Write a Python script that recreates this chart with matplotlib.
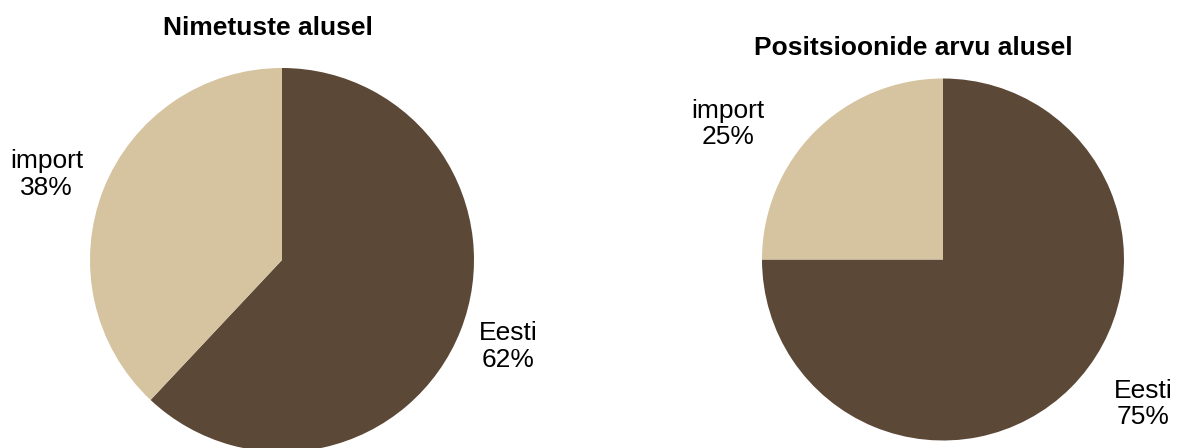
import matplotlib
matplotlib.use('Agg')
import matplotlib.pyplot as plt

plt.rcParams['font.family'] = ['Liberation Sans', 'DejaVu Sans']

# data
categories = ['Eesti', 'import']
shares_names = [62, 38]       # Nimetuste alusel
shares_positions = [75, 25]   # Positsioonide arvu alusel
titles = ['Nimetuste alusel', 'Positsioonide arvu alusel']

colors = ['#5C4837', '#D6C4A0']

W, H = 1178, 448
fig = plt.figure(figsize=(W / 100, H / 100), dpi=100)

# pie boxes in pixels: centre x, centre y (from top), radius
boxes = [(282, 260, 192), (943, 259.5, 181)]
# label centres in axes data units (pie radius = 1), Excel-style placement
label_pos = [
    [(1.18, -0.45), (-1.225, 0.445)],
    [(1.105, -0.80), (-1.19, 0.75)],
]
# title centres in pixels (x, y from top)
title_pos = [(268, 28), (913, 48)]

for k, vals in enumerate([shares_names, shares_positions]):
    cx, cy, r = boxes[k]
    ax = fig.add_axes([(cx - r) / W, (H - cy - r) / H, 2 * r / W, 2 * r / H])
    ax.pie(vals, colors=colors, startangle=90, counterclock=False,
           radius=1, wedgeprops=dict(linewidth=0))
    ax.set_xlim(-1, 1)
    ax.set_ylim(-1, 1)
    ax.set_aspect('equal')
    ax.axis('off')
    for j, cat in enumerate(categories):
        x, y = label_pos[k][j]
        ax.text(x, y, '%s\n%d%%' % (cat, vals[j]), ha='center', va='center',
                fontsize=19, color='black', linespacing=1.12, clip_on=False)
    tx, ty = title_pos[k]
    fig.text(tx / W, 1 - ty / H, titles[k], ha='center', va='center',
             fontsize=19, fontweight='bold')

fig.savefig('out.png', dpi=100)
